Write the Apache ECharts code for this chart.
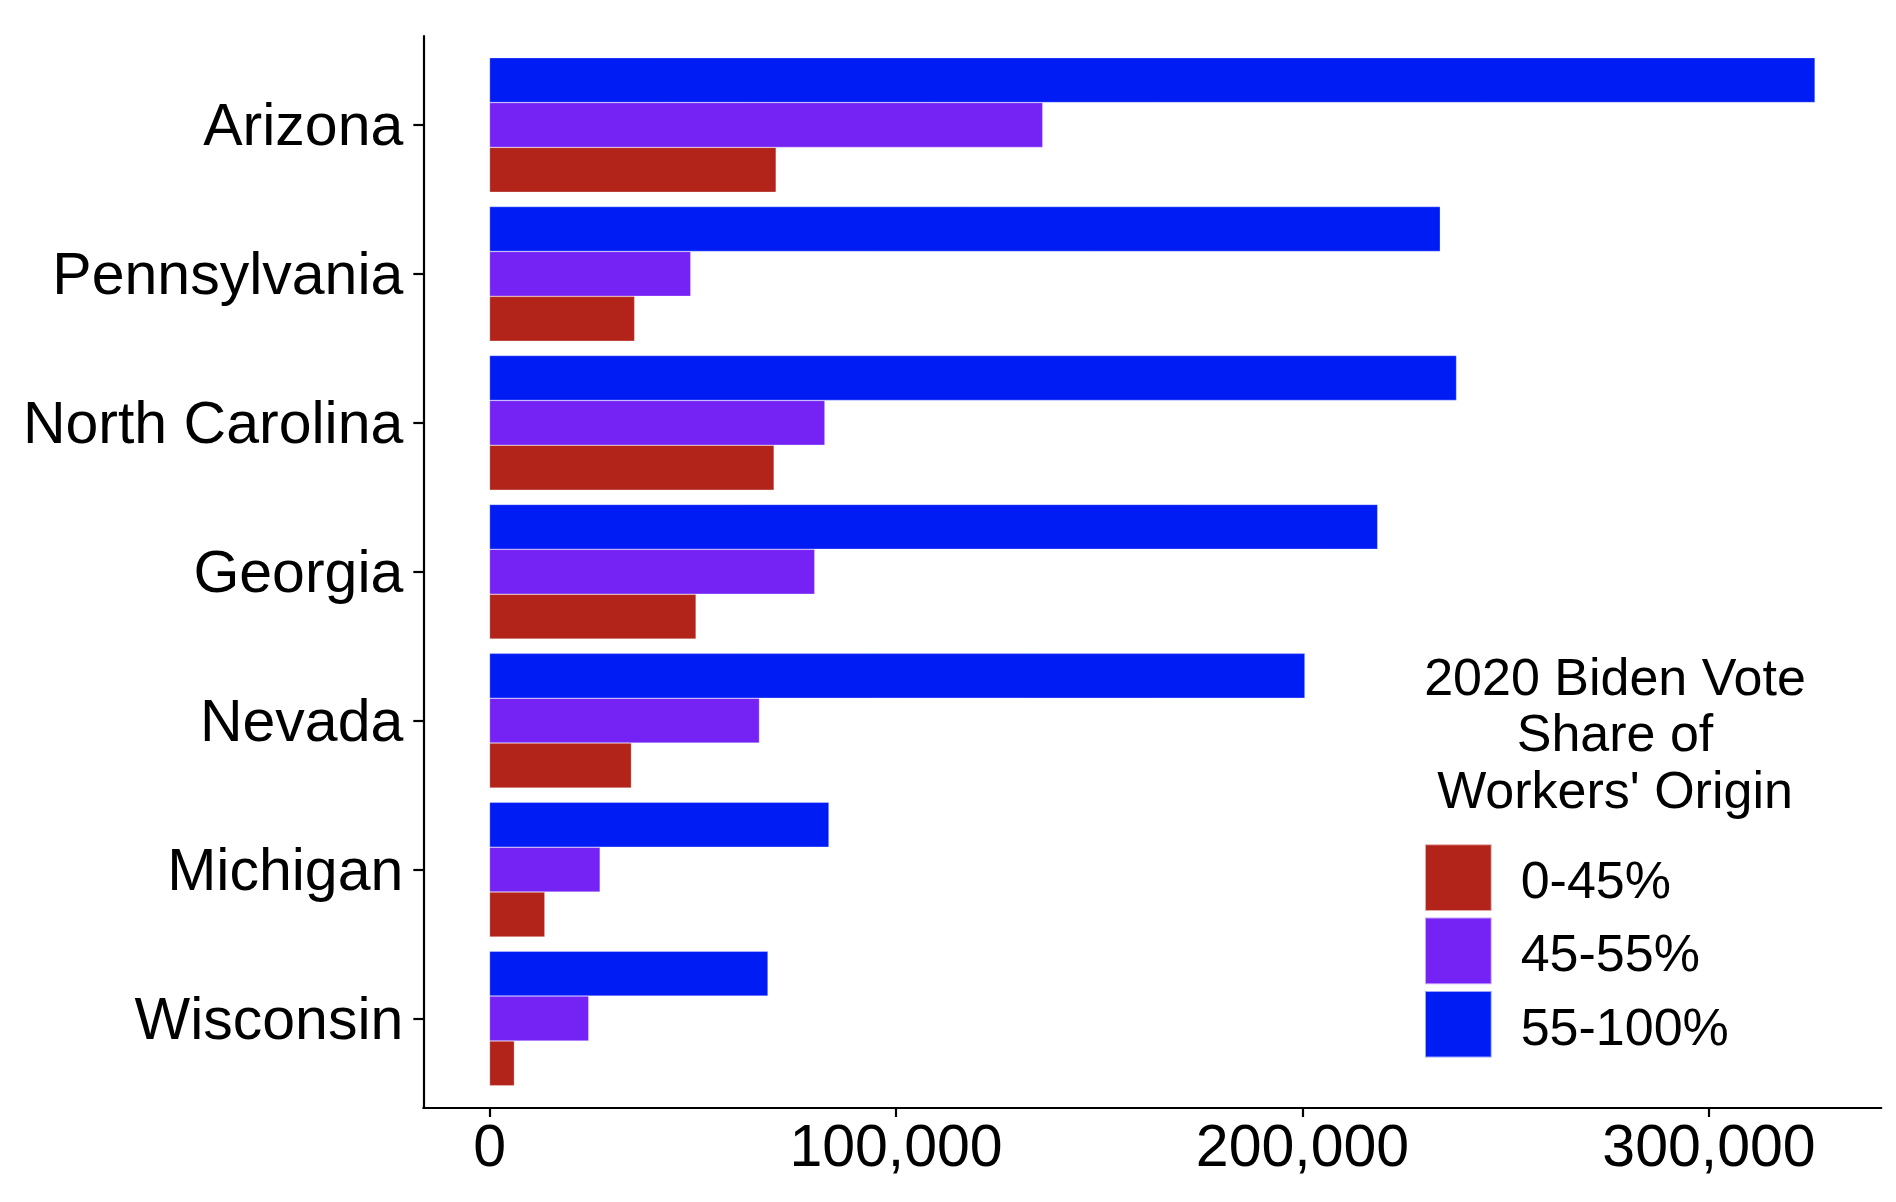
<!DOCTYPE html>
<html>
<head>
<meta charset="utf-8">
<script src="https://cdn.jsdelivr.net/npm/echarts@6/dist/echarts.min.js"></script>
<style>
html,body{margin:0;padding:0;background:#fff;}
#chart{width:1896px;height:1202px;}
</style>
</head>
<body>
<div id="chart"></div>
<script>
const states = ['Arizona','Pennsylvania','North Carolina','Georgia','Nevada','Michigan','Wisconsin'];
const seriesNames = ['0-45%','45-55%','55-100%'];
const low = [70500, 35700, 70000, 50800, 34900, 13600, 6100];
const mid = [136100, 49500, 82500, 80000, 66400, 27200, 24400];
const high = [326100, 233900, 237900, 218500, 200600, 83500, 68500];
const xTicks = [0, 100000, 200000, 300000];
const legendTitle = "2020 Biden Vote\nShare of\nWorkers' Origin";

const colors = {'0-45%':'#B2231A','45-55%':'#7523F5','55-100%':'#001CF5'};
const FONT = "'Liberation Sans', Arial, Helvetica, sans-serif";
const xMin = -16300, xMax = 342400;

const chart = echarts.init(document.getElementById('chart'), null, {renderer:'canvas'});
function fmt(v){ return v.toLocaleString('en-US'); }
function bar(name, data){
  return {
    name: name, type:'bar', xAxisIndex:1, yAxisIndex:1, data:data,
    barGap:'0%', barCategoryGap:'9.6%',
    itemStyle:{color:colors[name], borderColor:'rgba(255,255,255,0.6)', borderWidth:0.5},
    emphasis:{disabled:true}, animation:false
  };
}
chart.setOption({
  animation:false,
  backgroundColor:'#ffffff',
  grid:[
    {left:423.3, right:14.7, top:36, bottom:94},
    {left:423.3, right:14.7, top:50.5, bottom:109}
  ],
  xAxis:[
    {gridIndex:0, type:'value', min:xMin, max:xMax,
     axisLine:{show:true, onZero:false, lineStyle:{color:'#000', width:2.2}},
     axisTick:{show:true, length:9, lineStyle:{color:'#000', width:2.2}, customValues:xTicks},
     axisLabel:{show:true, margin:12, fontSize:59, fontFamily:FONT, color:'#000', customValues:xTicks, formatter:fmt},
     splitLine:{show:false}},
    {gridIndex:1, type:'value', min:xMin, max:xMax, show:false, splitLine:{show:false}}
  ],
  yAxis:[
    {gridIndex:0, type:'value', min:0, max:1,
     axisLine:{show:true, onZero:false, lineStyle:{color:'#000', width:2.2}},
     axisTick:{show:false}, axisLabel:{show:false}, splitLine:{show:false}},
    {gridIndex:1, type:'category', data:states, inverse:true,
     axisLine:{show:false, onZero:false},
     axisTick:{show:true, alignWithLabel:true, length:10, lineStyle:{color:'#000', width:2.2}},
     axisLabel:{margin:20, fontSize:59, fontFamily:FONT, color:'#000',
       formatter:function(v){ return '{s|' + v + '}'; },
       rich:{s:{fontSize:59, fontFamily:FONT, color:'#000', padding:[8,0,0,0]}}},
     splitLine:{show:false}}
  ],
  legend:{
    data:seriesNames, orient:'vertical', left:1424, top:843.3,
    itemWidth:66.7, itemHeight:66.7, itemGap:4.6, icon:'rect', padding:0,
    selectedMode:false,
    formatter:function(n){ return '{t|' + n + '}'; },
    textStyle:{fontSize:52, fontFamily:FONT, color:'#000', padding:[0,0,0,24],
      rich:{t:{fontSize:52, fontFamily:FONT, color:'#000', padding:[12,0,0,0]}}}
  },
  graphic:[{
    type:'text', x:1615, y:652,
    style:{text:legendTitle, font:'52px ' + FONT, fill:'#000', textAlign:'center', textVerticalAlign:'top', lineHeight:56.5}
  }],
  series:[bar('55-100%', high), bar('45-55%', mid), bar('0-45%', low)]
});
</script>
</body>
</html>
